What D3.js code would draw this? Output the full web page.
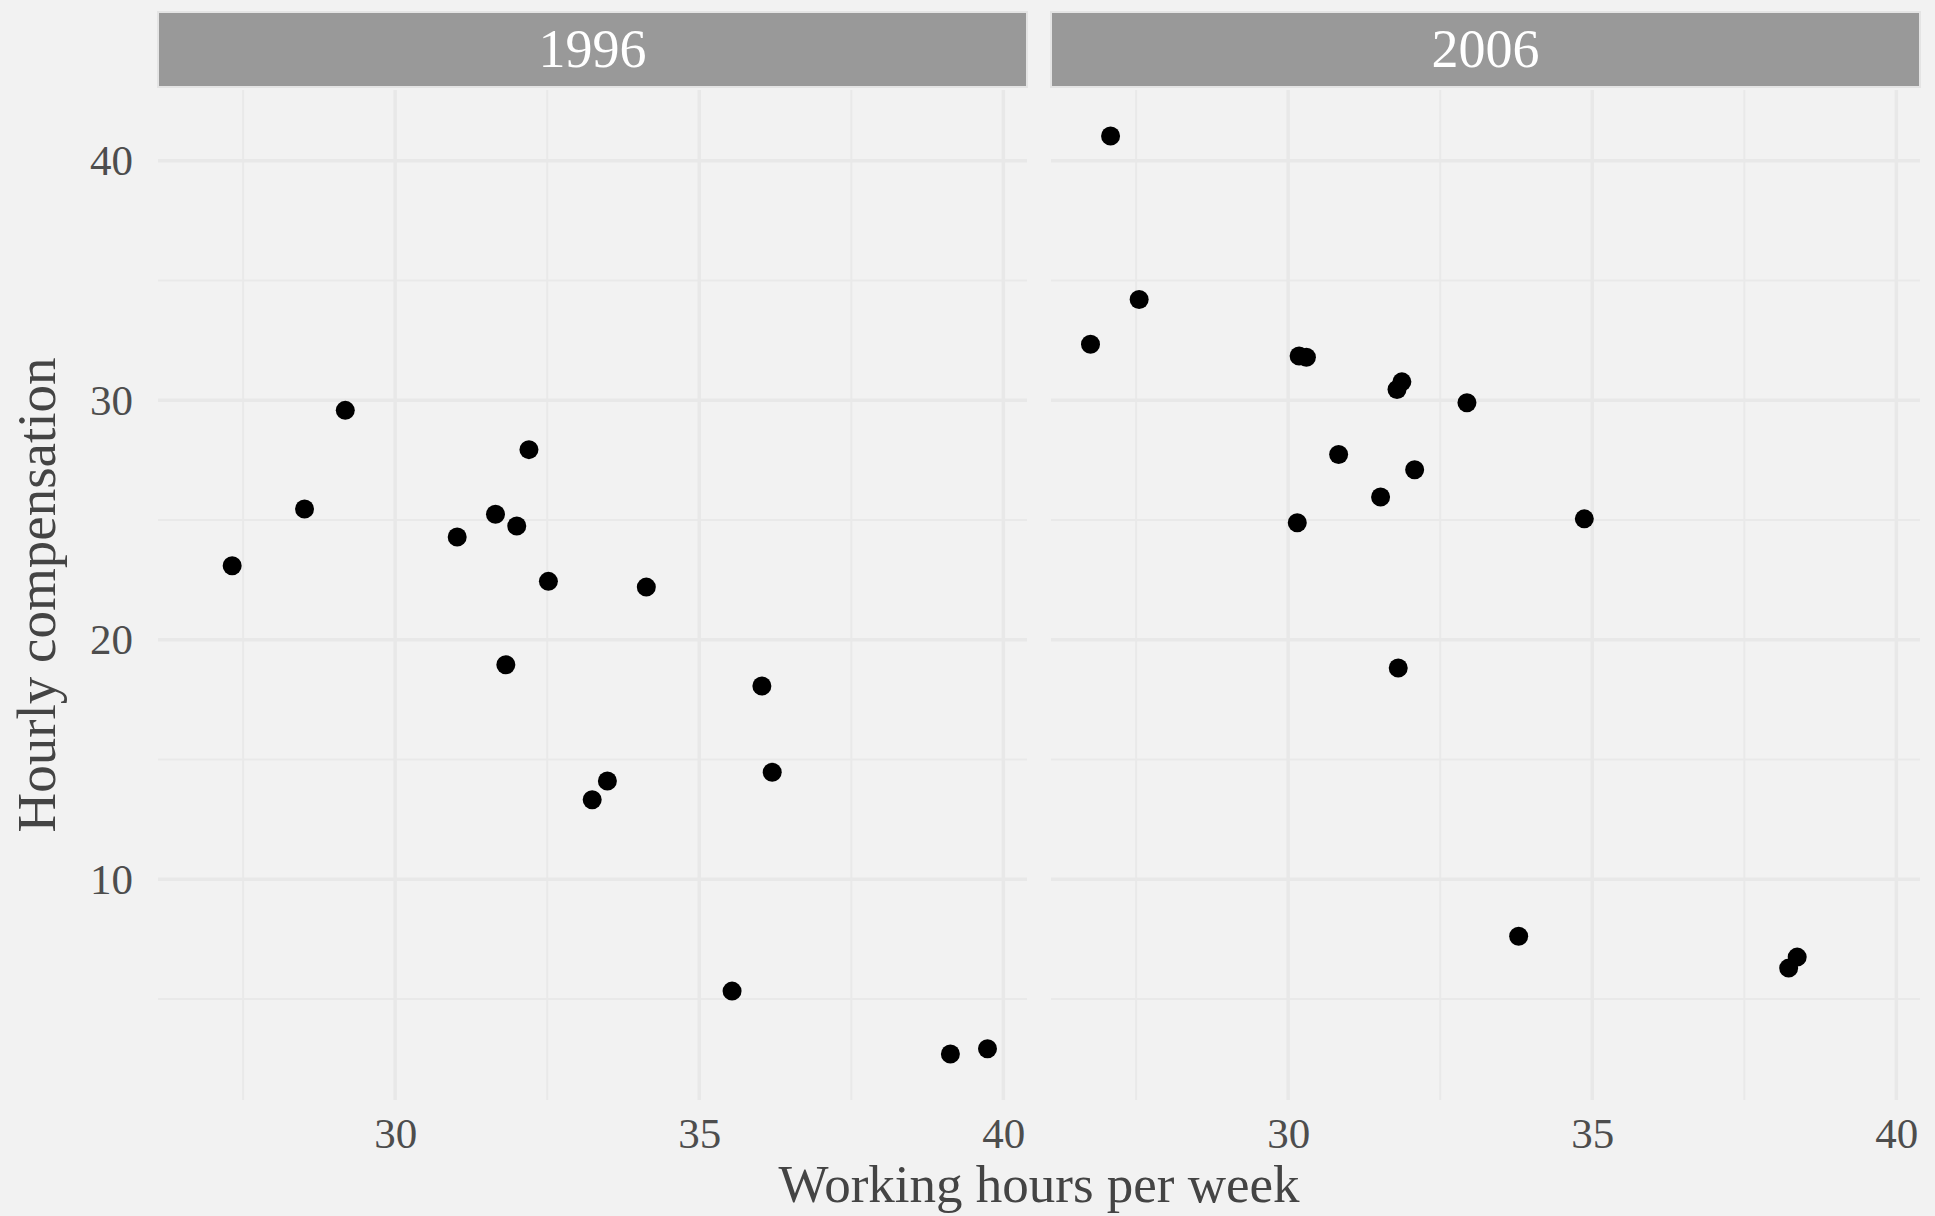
<!DOCTYPE html>
<meta charset="utf-8">

<script src="https://d3js.org/d3.v7.min.js"></script>

<style type="text/css">

body { margin: 0; background: #f2f2f2; }
text { font-family: "Liberation Serif", "Times New Roman", serif; }
.tick text { fill: #4d4d4d; font-size: 43px; }
.axis path, .axis line { display: none; }

</style>

<body>
</body>

<script>

// data
var years = ["1996", "2006"];

var hours1996 = [27.32, 28.51, 29.18, 31.02, 31.65, 31.82, 32.00, 32.20, 32.52, 33.24, 33.49, 34.13, 35.54, 36.03, 36.20, 39.13, 39.74];
var comp1996  = [23.09, 25.46, 29.58, 24.29, 25.24, 18.96, 24.75, 27.94, 22.44, 13.32, 14.10, 22.20, 5.33, 18.07, 14.47, 2.70, 2.92];

var hours2006 = [26.75, 27.08, 27.55, 30.15, 30.18, 30.30, 30.83, 31.52, 31.79, 31.81, 31.87, 32.08, 32.94, 33.79, 34.87, 38.23, 38.37];
var comp2006  = [32.34, 41.04, 34.21, 24.89, 31.85, 31.80, 27.74, 25.96, 30.45, 18.82, 30.77, 27.10, 29.90, 7.62, 25.05, 6.29, 6.75];

var xTicks = [30, 35, 40];
var xMinor = [27.5, 32.5, 37.5];
var yTicks = [10, 20, 30, 40];
var yMinor = [5, 15, 25, 35];

var xTitle = "Working hours per week";
var yTitle = "Hourly compensation";

// layout
var totalW = 1935, totalH = 1216;
var panelLeft = 158, panelW = 869, panelGap = 24;
var panelTop = 90, panelH = 1010;
var stripTop = 12, stripH = 75;

var svg = d3.select("body").append("svg")
  .attr("width", totalW)
  .attr("height", totalH);

svg.append("rect")
  .attr("width", totalW)
  .attr("height", totalH)
  .style("fill", "#f2f2f2");

var panels = [
  {year: years[0], hours: hours1996, comp: comp1996},
  {year: years[1], hours: hours2006, comp: comp2006}
];

// shared scales, ggplot style 5% expansion
var allX = hours1996.concat(hours2006);
var allY = comp1996.concat(comp2006);
var xExt = d3.extent(allX), yExt = d3.extent(allY);
var xPad = (xExt[1] - xExt[0]) * 0.05, yPad = (yExt[1] - yExt[0]) * 0.05;

var xScale = d3.scaleLinear()
  .domain([xExt[0] - xPad, xExt[1] + xPad])
  .range([0, panelW]);

var yScale = d3.scaleLinear()
  .domain([yExt[0] - yPad, yExt[1] + yPad])
  .range([panelH, 0]);

panels.forEach(function(p, i) {

  var g = svg.append("g")
    .attr("transform", "translate(" + (panelLeft + i * (panelW + panelGap)) + "," + panelTop + ")");

  // minor grid
  g.selectAll(".xminor").data(xMinor).enter().append("line")
    .attr("x1", function(d) { return xScale(d); })
    .attr("x2", function(d) { return xScale(d); })
    .attr("y1", 0).attr("y2", panelH)
    .style("stroke", "#e9e9e9").style("stroke-width", 2);

  g.selectAll(".yminor").data(yMinor).enter().append("line")
    .attr("x1", 0).attr("x2", panelW)
    .attr("y1", function(d) { return yScale(d); })
    .attr("y2", function(d) { return yScale(d); })
    .style("stroke", "#e9e9e9").style("stroke-width", 2);

  // major grid
  g.selectAll(".xmajor").data(xTicks).enter().append("line")
    .attr("x1", function(d) { return xScale(d); })
    .attr("x2", function(d) { return xScale(d); })
    .attr("y1", 0).attr("y2", panelH)
    .style("stroke", "#e8e8e8").style("stroke-width", 3.5);

  g.selectAll(".ymajor").data(yTicks).enter().append("line")
    .attr("x1", 0).attr("x2", panelW)
    .attr("y1", function(d) { return yScale(d); })
    .attr("y2", function(d) { return yScale(d); })
    .style("stroke", "#e8e8e8").style("stroke-width", 3.5);

  // x axis
  var xAxisGroup = g.append("g")
    .attr("class", "x axis")
    .attr("transform", "translate(0," + panelH + ")")
    .call(d3.axisBottom(xScale).tickValues(xTicks).tickSize(0).tickPadding(17));

  xAxisGroup.selectAll("text").attr("dy", "0.71em");

  // y axis only on the first panel
  if (i === 0) {
    g.append("g")
      .attr("class", "y axis")
      .call(d3.axisLeft(yScale).tickValues(yTicks).tickSize(0).tickPadding(25));
  }

  // strip
  var strip = svg.append("g")
    .attr("transform", "translate(" + (panelLeft + i * (panelW + panelGap)) + "," + stripTop + ")");

  strip.append("rect")
    .attr("width", panelW)
    .attr("height", stripH)
    .style("fill", "#999999")
    .style("stroke", "#e4e4e4")
    .style("stroke-width", 2);

  strip.append("text")
    .attr("x", panelW / 2)
    .attr("y", stripH / 2 + 17)
    .attr("text-anchor", "middle")
    .style("fill", "#ffffff")
    .style("font-size", "54px")
    .text(p.year);

  // points
  g.selectAll(".dot")
    .data(d3.range(p.hours.length))
    .enter().append("circle")
    .attr("cx", function(j) { return xScale(p.hours[j]); })
    .attr("cy", function(j) { return yScale(p.comp[j]); })
    .attr("r", 9.5)
    .style("fill", "#000000");
});

// axis titles
svg.append("text")
  .attr("x", panelLeft + panelW + panelGap / 2)
  .attr("y", 1202)
  .attr("text-anchor", "middle")
  .style("fill", "#444444")
  .style("font-size", "53px")
  .text(xTitle);

svg.append("text")
  .attr("transform", "translate(55," + (panelTop + panelH / 2) + ") rotate(-90)")
  .attr("text-anchor", "middle")
  .style("fill", "#444444")
  .style("font-size", "55px")
  .text(yTitle);

</script>
